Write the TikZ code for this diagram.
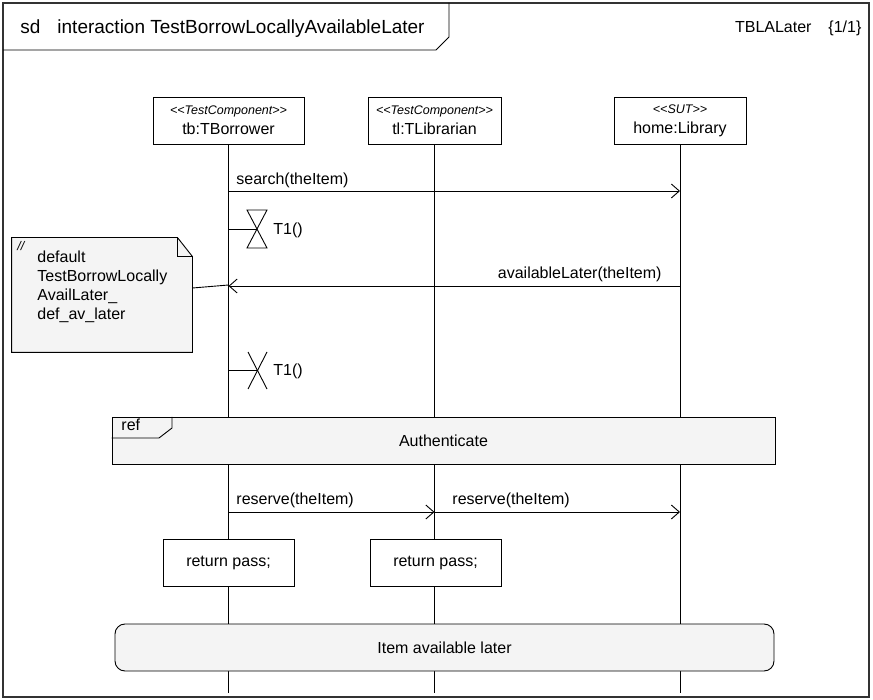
\documentclass[tikz,border=0pt]{standalone}
\usepackage{fontspec}
\setmainfont{Liberation Sans}
\usepackage{xcolor}
\usetikzlibrary{positioning,calc,arrows.meta}

\definecolor{fraggray}{HTML}{F4F4F4}
\definecolor{framegray}{HTML}{333333}
\newcommand{\lblfont}{\fontsize{16}{19}\selectfont}
\newcommand{\titlefont}{\fontsize{19}{22}\selectfont}
\newcommand{\stfont}{\fontsize{12.5}{14}\selectfont\itshape}

\begin{document}
\begin{tikzpicture}[
    x=1pt,y=-1pt,
    font=\lblfont,
    line width=0.9pt,
    head/.style={
        rectangle,
        draw,
        fill=white,
        minimum height=47pt,
        align=center,
        inner sep=2pt
      },
    retbox/.style={
        rectangle,
        draw,
        fill=white,
        minimum width=131pt,
        minimum height=47pt
      },
    frag/.style={
        rectangle,
        draw,
        fill=fraggray,
        minimum height=47pt
      },
    lbl/.style={inner sep=0pt,anchor=base west},
    msg/.style={-{Straight Barb[length=8pt,width=14pt]}}
    ]

    \useasboundingbox (0,0) rectangle (873,700);

    % frame and its title tab
    \draw[framegray,line width=1.4pt] (3,3) rectangle (869,697);
    \draw (3,50) -- (436,50) -- (449,37) -- (449,3);
    \node[lbl,font=\titlefont] (sd) at (20,34) {sd};
    \node[lbl,font=\titlefont] (title) at (57,34) {interaction TestBorrowLocallyAvailableLater};
    \node[lbl,anchor=base east] (tag) at (812,33) {TBLALater};
    \node[lbl] (page) at (828,33) {\{1/1\}};

    % lifeline heads
    \node[head,minimum width=151pt] (tb) at (228.5,120.5)
        {{\stfont {<}{<}TestComponent{>}{>}}\\[1pt]tb:TBorrower};
    \node[head,minimum width=133pt] (tl) at (434.5,120.5)
        {{\stfont {<}{<}TestComponent{>}{>}}\\[1pt]tl:TLibrarian};
    \node[head,minimum width=132pt] (home) at (680,120.5)
        {{\stfont {<}{<}SUT{>}{>}}\\[1pt]home:Library};

    \draw (tb) -- (tb |- 0,693);
    \draw (tl) -- (tl |- 0,693);
    \draw (home) -- (home |- 0,693);

    % search
    \draw[msg] (tb |- 0,191) -- (home |- 0,191);
    \node[lbl] (search) at (236,185) {search(theItem)};

    % start timer T1
    \coordinate (t1start) at (257,229);
    \draw (tb |- t1start) -- (t1start);
    \draw (247,210) -- (267,210) -- (247,248) -- (267,248) -- cycle;
    \node[lbl] (t1a) at (273,235) {T1()};

    % reply
    \draw[msg] (home |- 0,286) -- (tb |- 0,286);
    \node[inner sep=0pt,anchor=base east] (avail) at (662,279) {availableLater(theItem)};

    % default note
    \node[minimum width=180pt,minimum height=114pt,inner sep=0pt] (note) at (102,295) {};
    \draw[fill=fraggray] (note.north west) -- ([xshift=-15pt]note.north east)
        -- ([yshift=-19pt]note.north east) -- (note.south east) -- (note.south west) -- cycle;
    \draw ([xshift=-15pt]note.north east) |- ([yshift=-19pt]note.north east);
    \node[lbl] (slashes) at (17,251) {\stfont //};
    \node[inner sep=0pt,anchor=north west,align=left] (notetext) at (37,250)
        {default\\TestBorrowLocally\\AvailLater\_\\def\_av\_later};
    \draw ([yshift=7pt]note.east) -- (tb |- 0,285);

    % timeout T1
    \coordinate (t1end) at (257,370);
    \draw (tb |- t1end) -- (t1end);
    \draw (248,352) -- (267,389);
    \draw (267,352) -- (248,389);
    \node[lbl] (t1b) at (273,376) {T1()};

    % interaction use
    \node[frag,minimum width=663pt] (ref) at (443.5,440.5) {Authenticate};
    \draw (ref.west |- 0,438) -- (159,438) -- (172,428) -- (172,417);
    \node[lbl] (reflbl) at (121,431) {ref};

    % reserve
    \draw[msg] (tb |- 0,512) -- (tl |- 0,512);
    \draw[msg] (tl |- 0,512) -- (home |- 0,512);
    \node[lbl] (res1) at (236,504) {reserve(theItem)};
    \node[lbl] (res2) at (452,504) {reserve(theItem)};

    % verdicts
    \node[retbox] (pass1) at (228.5,562.5) {return pass;};
    \node[retbox] (pass2) at (435.5,562.5) {return pass;};

    % final state
    \node[frag,rounded corners=10pt,minimum width=659pt] (state) at (444.5,647.5) {Item available later};

  \end{tikzpicture}
\end{document}
